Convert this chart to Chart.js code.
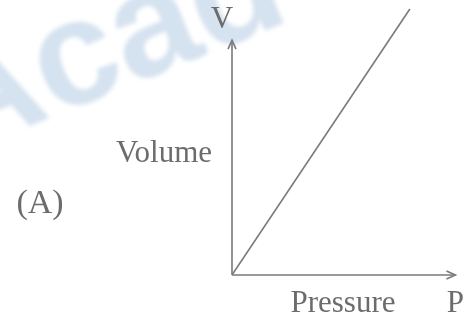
<!DOCTYPE html>
<html lang="en">
<head>
    <meta charset="UTF-8">
    <title>Volume vs Pressure (A)</title>
    <script src="https://cdn.jsdelivr.net/npm/chart.js"></script>
    <style>
        body { margin: 0; background: #fff; }
        .wrap { width: 470px; height: 323px; }
    </style>
</head>
<body>
    <div class="wrap"><canvas id="pv" width="470" height="323"></canvas></div>

    <script>
        // values (arbitrary units)
        const pressure = [0, 7.8];
        const volume = [0, 9.85];
        // how far each axis arrow reaches
        const pAxisEnd = [9.8];
        const vAxisEnd = [8.7];
        const labels = { x: 'Pressure', y: 'Volume', xSym: 'P', ySym: 'V', tag: '(A)' };

        const ink = '#7a7a7a';
        const textInk = '#6c6c6c';
        const serif = '"Liberation Serif", "DejaVu Serif", serif';

        function arrow(ctx, x, y, dx, dy) {
            // open arrowhead pointing along (dx, dy)
            const len = 9, half = 4;
            const px = -dy, py = dx;
            ctx.beginPath();
            ctx.moveTo(x - dx * len + px * half, y - dy * len + py * half);
            ctx.lineTo(x, y);
            ctx.lineTo(x - dx * len - px * half, y - dy * len - py * half);
            ctx.stroke();
        }

        const figurePlugin = {
            id: 'figure',
            beforeDraw(chart) {
                const ctx = chart.ctx;
                // faint watermark from the scan
                ctx.save();
                ctx.translate(76, 64);
                ctx.rotate(-22 * Math.PI / 180);
                ctx.filter = 'blur(2px)';
                ctx.font = 'bold 150px "Liberation Sans", sans-serif';
                ctx.fillStyle = 'rgba(150, 182, 215, 0.4)';
                ctx.textBaseline = 'alphabetic';
                ctx.fillText('Acad', -149, 40);
                ctx.restore();
            },
            afterDatasetsDraw(chart) {
                const ctx = chart.ctx;
                const x = chart.scales.x, y = chart.scales.y;
                const ox = x.getPixelForValue(0), oy = y.getPixelForValue(0);
                const xe = x.getPixelForValue(pAxisEnd[0]);
                const ye = y.getPixelForValue(vAxisEnd[0]);

                ctx.save();
                ctx.strokeStyle = ink;
                ctx.lineWidth = 1.6;
                ctx.beginPath();
                ctx.moveTo(ox, oy); ctx.lineTo(xe, oy);
                ctx.moveTo(ox, oy); ctx.lineTo(ox, ye);
                ctx.stroke();
                arrow(ctx, xe, oy, 1, 0);
                arrow(ctx, ox, ye, 0, -1);

                ctx.fillStyle = textInk;
                ctx.font = '31px ' + serif;
                ctx.textAlign = 'center';
                ctx.textBaseline = 'alphabetic';
                ctx.fillText(labels.ySym, ox - 10, ye - 12);
                ctx.fillText(labels.xSym, xe, oy + 37);
                ctx.fillText(labels.x, ox + 111, oy + 37);
                ctx.textAlign = 'right';
                ctx.fillText(labels.y, ox - 20, oy - 113);
                ctx.textAlign = 'center';
                ctx.font = '34px ' + serif;
                ctx.fillText(labels.tag, 40, oy - 62);
                ctx.restore();
            }
        };

        new Chart(document.getElementById('pv'), {
            type: 'scatter',
            data: {
                datasets: [{
                    data: pressure.map((p, i) => ({ x: p, y: volume[i] })),
                    showLine: true,
                    borderColor: ink,
                    borderWidth: 1.6,
                    pointRadius: 0,
                    fill: false
                }]
            },
            options: {
                responsive: false,
                animation: false,
                layout: { padding: { left: 232, right: 10, top: 5, bottom: 48 } },
                plugins: { legend: { display: false }, tooltip: { enabled: false } },
                scales: {
                    x: { type: 'linear', min: 0, max: 10, display: false },
                    y: { type: 'linear', min: 0, max: 10, display: false }
                }
            },
            plugins: [figurePlugin]
        });
    </script>
</body>
</html>
